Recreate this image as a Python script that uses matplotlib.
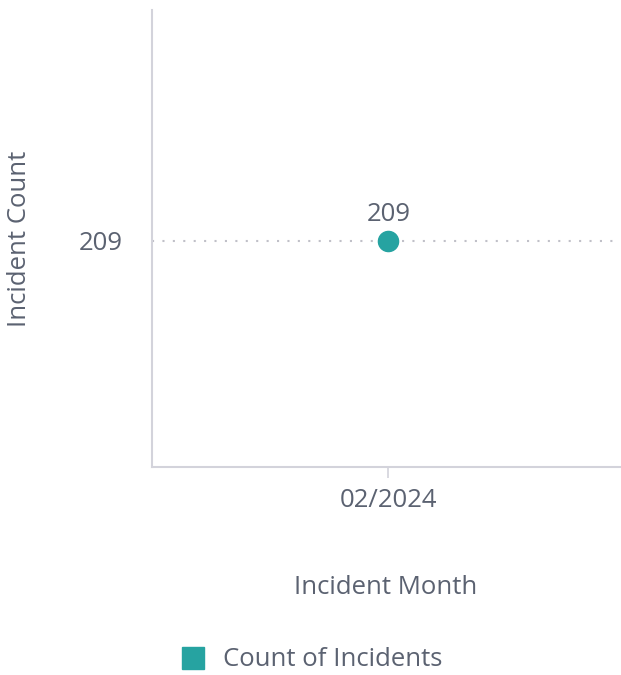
import matplotlib
matplotlib.use("Agg")
import matplotlib.pyplot as plt
from matplotlib.lines import Line2D

# data
months = ["02/2024"]
counts = [209]
series_name = "Count of Incidents"

teal = "#26a3a1"
txt = "#5b6271"
axis_col = "#d3d3db"
fs = 18.5

plt.rcParams["font.family"] = ["Open Sans", "DejaVu Sans"]

fig = plt.figure(figsize=(6.21, 6.75), dpi=100)
ax = fig.add_axes([152/621, 1-467/675, 468/621, 457/675])

xs = list(range(len(months)))
ax.plot(xs, counts, "o", color=teal, markersize=14.5, zorder=3)
for x, v in zip(xs, counts):
    ax.annotate(str(v), (x, v), xytext=(0, 10), textcoords="offset points",
                ha="center", va="bottom", fontsize=fs, color=txt)

ax.set_xlim(-1, 0.98)
ax.set_ylim(counts[0]-1, counts[0]+1.022)
ax.set_xticks(xs)
ax.set_xticklabels(months)
ax.set_yticks(counts)
ax.set_yticklabels([str(c) for c in counts])

ax.grid(axis="y", linestyle=(0, (1, 4)), color="#c0c0c8", linewidth=1.5)
ax.set_axisbelow(True)
for s in ["top", "right"]:
    ax.spines[s].set_visible(False)
for s in ["left", "bottom"]:
    ax.spines[s].set_color(axis_col)
    ax.spines[s].set_linewidth(1.5)

ax.tick_params(axis="x", length=8, width=1.2, color=axis_col, labelsize=fs, labelcolor=txt, pad=7)
ax.tick_params(axis="y", length=0, labelsize=fs, labelcolor=txt, pad=21)

ax.set_xlabel("Incident Month", fontsize=fs, color=txt)
ax.xaxis.set_label_coords(0.5, (467-575)/457)
ax.set_ylabel("Incident Count", fontsize=fs, color=txt)
ax.yaxis.set_label_coords((32-152)/468, 0.5)

handle = Line2D([], [], marker="s", linestyle="none", color=teal, markersize=16)
fig.legend([handle], [series_name], loc="center", bbox_to_anchor=(305/621, 1-660/675),
           frameon=False, fontsize=fs, labelcolor=txt, handletextpad=0.15)

fig.savefig("out.png", dpi=100)
